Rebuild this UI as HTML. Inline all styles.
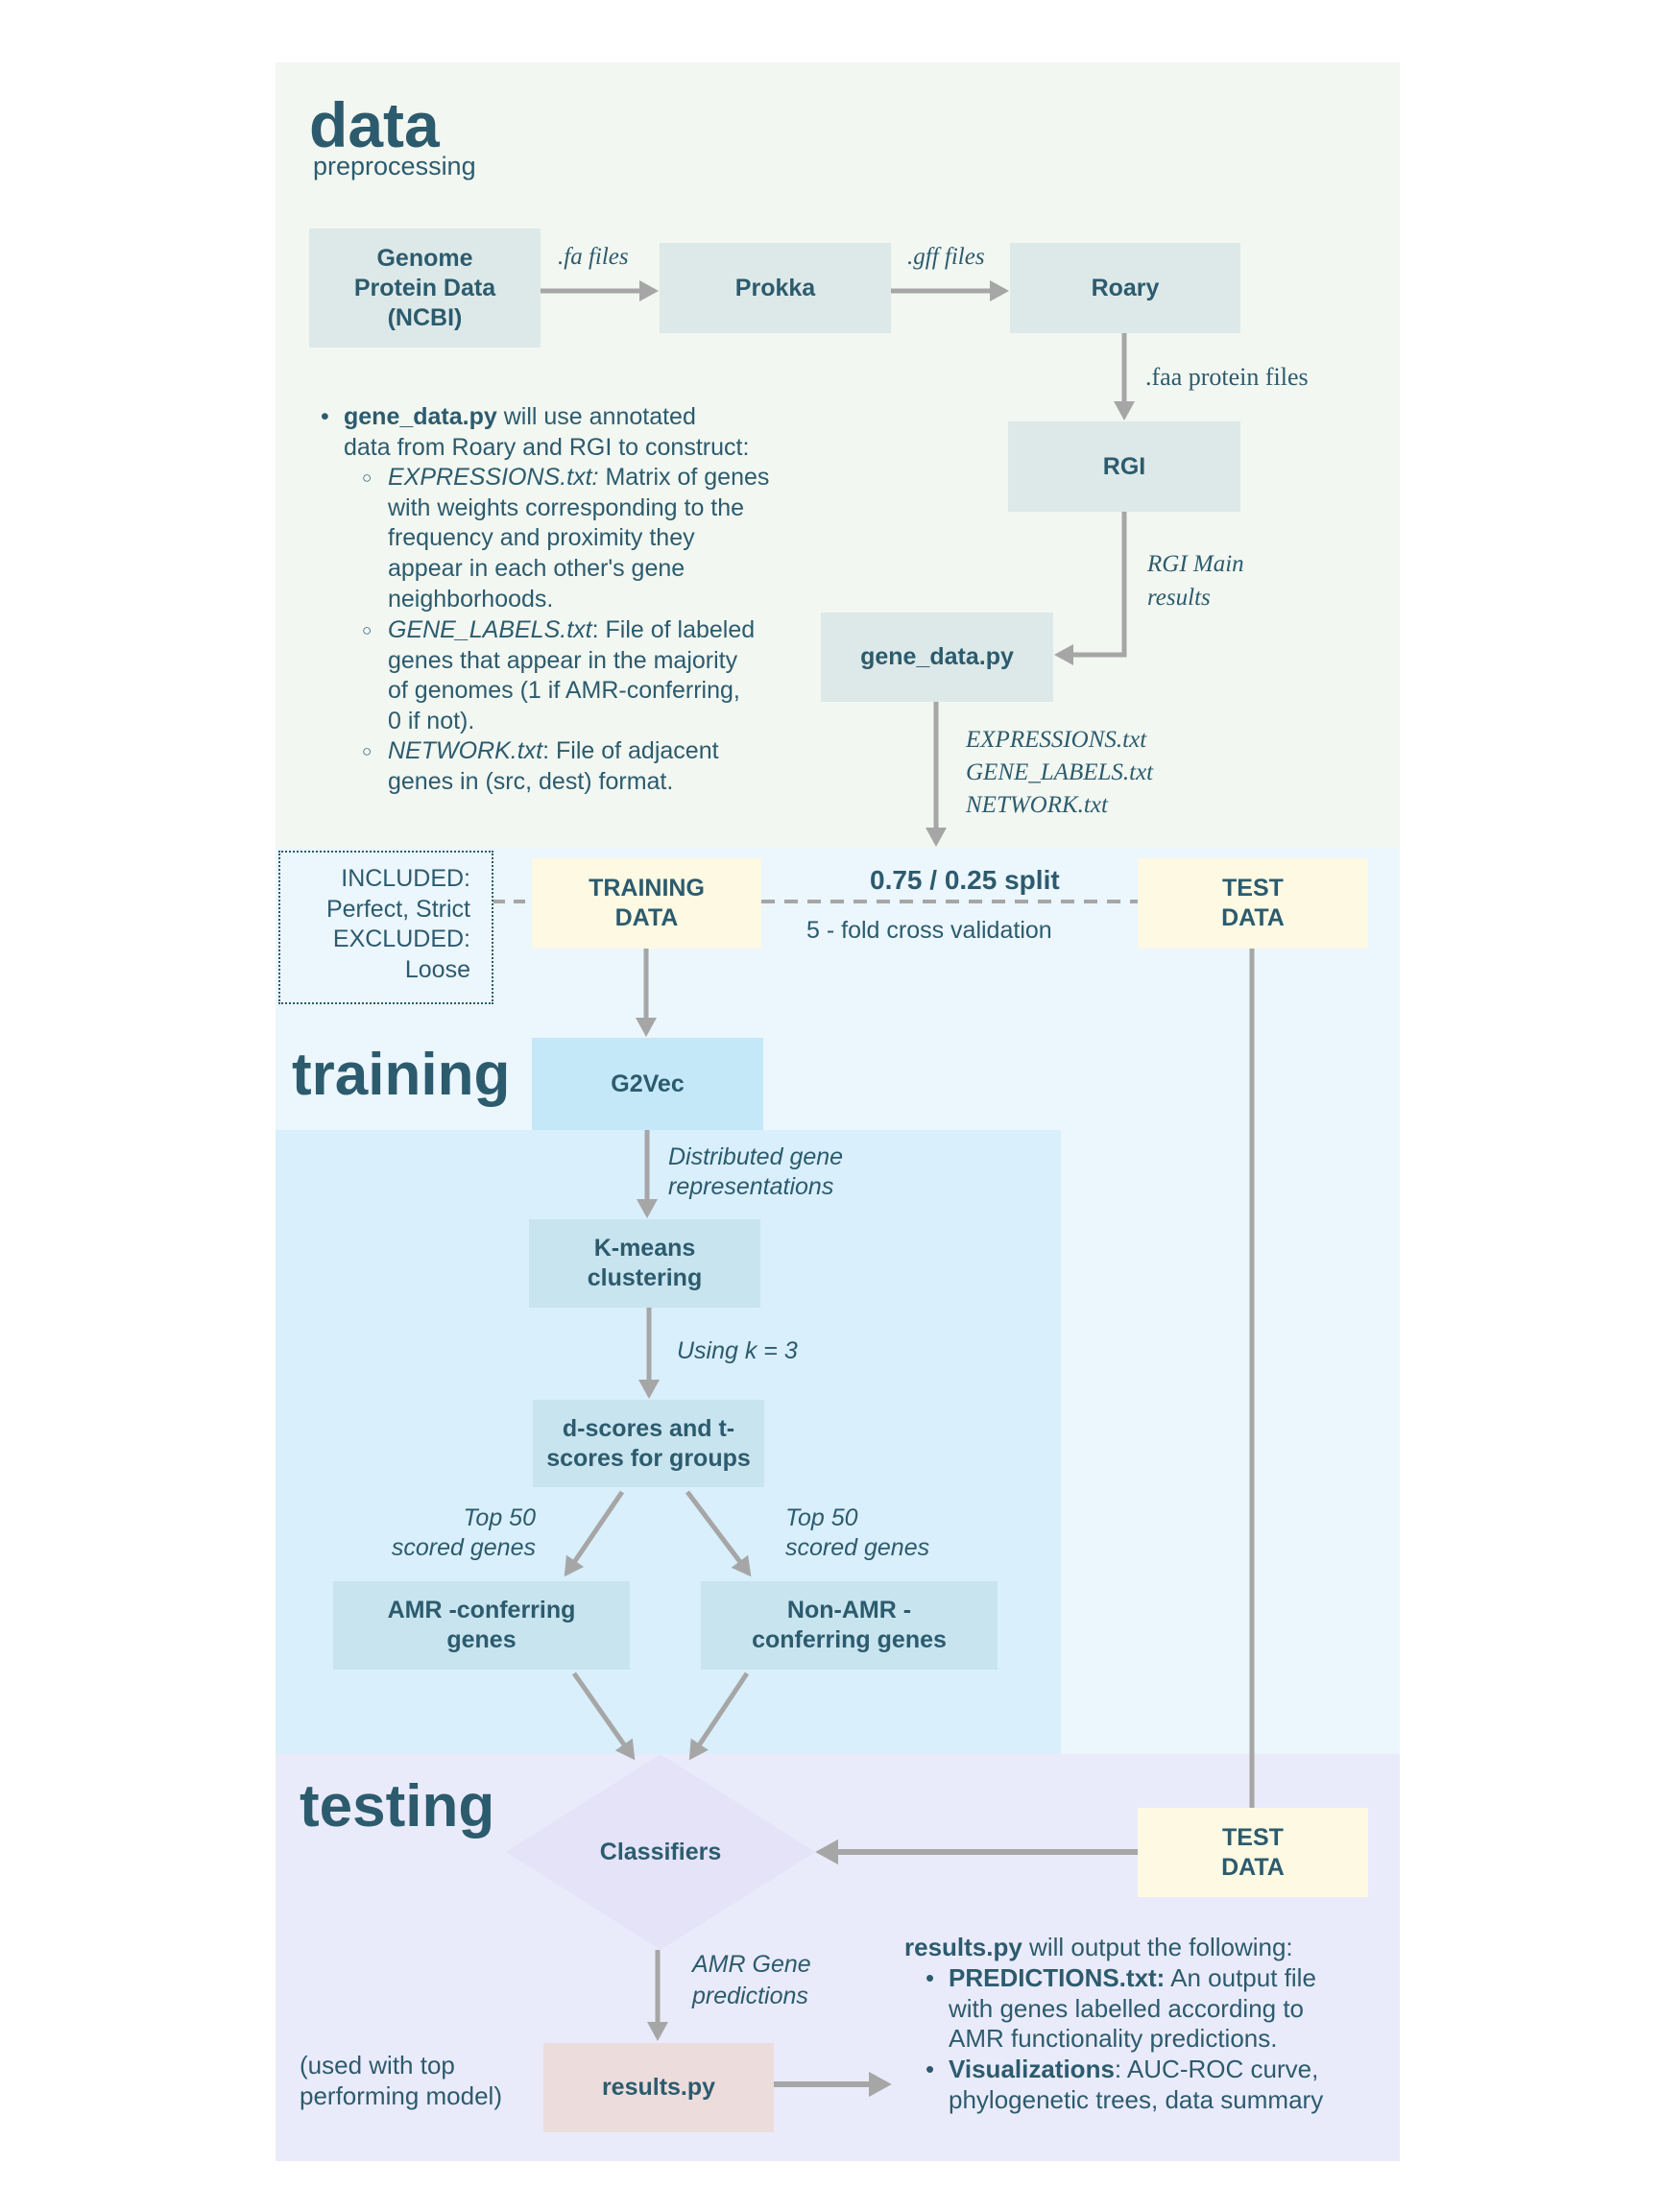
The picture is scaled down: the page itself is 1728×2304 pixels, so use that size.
<!DOCTYPE html>
<html><head><meta charset="utf-8"><style>
*{margin:0;padding:0;box-sizing:border-box}
body{width:1728px;height:2304px;background:#fff;position:relative;overflow:hidden;font-family:"Liberation Sans",sans-serif;color:#2c5b6e}
.a{position:absolute}
.box{position:absolute;display:flex;align-items:center;justify-content:center;text-align:center;font-weight:bold;font-size:25px;line-height:31px}
.g{background:#dde9e8}
.b{background:#c8e4ee}
.y{background:#fef9e3}
.t{position:absolute;white-space:nowrap}
.ser{font-family:"Liberation Serif",serif;font-style:italic;font-size:25px}
.it{font-style:italic;font-size:25px}
.txt{font-size:25px;line-height:31.7px}
</style></head><body>
<div class="a" style="left:287px;top:65px;width:1171px;height:818px;background:#f2f7f1"></div>
<div class="a" style="left:287px;top:883px;width:1171px;height:944px;background:#ecf6fd"></div>
<div class="a" style="left:287px;top:1177px;width:818px;height:650px;background:#d9effb"></div>
<div class="a" style="left:287px;top:1827px;width:1171px;height:424px;background:#eaebfa"></div>

<div class="t" style="left:322px;top:92px;font-size:66px;font-weight:bold">data</div>
<div class="t" style="left:326px;top:158px;font-size:27px">preprocessing</div>

<div class="box g" style="left:322px;top:238px;width:241px;height:124px">Genome<br>Protein Data<br>(NCBI)</div>
<div class="box g" style="left:687px;top:253px;width:241px;height:94px">Prokka</div>
<div class="box g" style="left:1052px;top:253px;width:240px;height:94px">Roary</div>
<div class="box g" style="left:1050px;top:439px;width:242px;height:94px">RGI</div>
<div class="box g" style="left:855px;top:638px;width:242px;height:93px">gene_data.py</div>

<div class="t ser" style="left:581px;top:254px">.fa files</div>
<div class="t ser" style="left:945px;top:254px">.gff files</div>
<div class="t ser" style="left:1193px;top:378px;font-style:normal;font-size:26px">.faa protein files</div>
<div class="t ser" style="left:1195px;top:570px;line-height:35px">RGI Main<br>results</div>
<div class="t ser" style="left:1006px;top:754px;line-height:34px">EXPRESSIONS.txt<br>GENE_LABELS.txt<br>NETWORK.txt</div>

<div class="t txt" style="left:334px;top:419px">•</div>
<div class="t txt" style="left:358px;top:419px"><b>gene_data.py</b> will use annotated<br>data from Roary and RGI to construct:</div>
<div class="t txt" style="left:377px;top:482px;font-size:17px">○</div>
<div class="t txt" style="left:404px;top:482px"><i>EXPRESSIONS.txt:</i> Matrix of genes<br>with weights corresponding to the<br>frequency and proximity they<br>appear in each other's gene<br>neighborhoods.</div>
<div class="t txt" style="left:377px;top:641px;font-size:17px">○</div>
<div class="t txt" style="left:404px;top:641px"><i>GENE_LABELS.txt</i>: File of labeled<br>genes that appear in the majority<br>of genomes (1 if AMR-conferring,<br>0 if not).</div>
<div class="t txt" style="left:377px;top:767px;font-size:17px">○</div>
<div class="t txt" style="left:404px;top:767px"><i>NETWORK.txt</i>: File of adjacent<br>genes in (src, dest) format.</div>

<div class="a" style="left:290px;top:886px;width:224px;height:160px;border:2.5px dotted #2c5b6e"></div>
<div class="t txt" style="left:290px;top:900px;width:200px;text-align:right;font-size:25px">INCLUDED:<br>Perfect, Strict<br>EXCLUDED:<br>Loose</div>

<div class="box y" style="left:554px;top:894px;width:239px;height:94px">TRAINING<br>DATA</div>
<div class="box y" style="left:1185px;top:894px;width:240px;height:94px">TEST<br>DATA</div>
<div class="t" style="left:906px;top:901px;font-size:28px;font-weight:bold">0.75 / 0.25 split</div>
<div class="t" style="left:840px;top:955px;font-size:25px">5 - fold cross validation</div>

<div class="t" style="left:304px;top:1084px;font-size:62px;font-weight:bold">training</div>
<div class="box" style="left:554px;top:1081px;width:241px;height:96px;background:#c5e8f8">G2Vec</div>
<div class="box b" style="left:551px;top:1270px;width:241px;height:92px">K-means<br>clustering</div>
<div class="box b" style="left:555px;top:1458px;width:241px;height:91px">d-scores and t-<br>scores for groups</div>
<div class="box b" style="left:347px;top:1647px;width:309px;height:92px">AMR -conferring<br>genes</div>
<div class="box b" style="left:730px;top:1647px;width:309px;height:92px">Non-AMR -<br>conferring genes</div>
<div class="t it" style="left:696px;top:1190px;line-height:31px">Distributed gene<br>representations</div>
<div class="t it" style="left:705px;top:1393px">Using k = 3</div>
<div class="t it" style="left:358px;top:1566px;width:200px;text-align:right;line-height:31px">Top 50<br>scored genes</div>
<div class="t it" style="left:818px;top:1566px;line-height:31px">Top 50<br>scored genes</div>

<div class="t" style="left:312px;top:1846px;font-size:62px;font-weight:bold">testing</div>
<svg class="a" style="left:0;top:0" width="1728" height="2304">
<polygon points="688,1827 849,1929 688,2031 527,1929" fill="#e4e3f8"/>
</svg>
<div class="box" style="left:588px;top:1912px;width:200px;height:34px">Classifiers</div>
<div class="box y" style="left:1185px;top:1883px;width:240px;height:93px">TEST<br>DATA</div>
<div class="t it" style="left:721px;top:2030px;line-height:33px">AMR Gene<br>predictions</div>
<div class="box" style="left:566px;top:2128px;width:240px;height:93px;background:#ecdcdc">results.py</div>
<div class="t txt" style="left:312px;top:2136px;font-size:26px">(used with top<br>performing model)</div>
<div class="t txt" style="left:942px;top:2013px;font-size:26px"><b>results.py</b> will output the following:</div>
<div class="t txt" style="left:964px;top:2045px;font-size:26px">•<br>&nbsp;<br>&nbsp;<br>•</div>
<div class="t txt" style="left:988px;top:2045px;font-size:26px"><b>PREDICTIONS.txt:</b> An output file<br>with genes labelled according to<br>AMR functionality predictions.<br><b>Visualizations</b>: AUC-ROC curve,<br>phylogenetic trees, data summary</div>

<svg class="a" style="left:0;top:0" width="1728" height="2304" fill="none" stroke="#a6a6a6" stroke-width="5">
<defs><marker id="m" markerWidth="5" markerHeight="5" refX="3.2" refY="2.5" orient="auto" markerUnits="strokeWidth"><path d="M0,0.3 L4,2.5 L0,4.7 Z" fill="#a6a6a6" stroke="none"/></marker></defs>
<line x1="563" y1="303" x2="682" y2="303" marker-end="url(#m)"/>
<line x1="928" y1="303" x2="1047" y2="303" marker-end="url(#m)"/>
<line x1="1171" y1="347" x2="1171" y2="434" marker-end="url(#m)"/>
<polyline points="1171,533 1171,682 1102,682" marker-end="url(#m)"/>
<line x1="975" y1="731" x2="975" y2="878" marker-end="url(#m)"/>
<line x1="514" y1="939" x2="554" y2="939" stroke-dasharray="12,9" stroke-width="4"/>
<line x1="793" y1="939" x2="1185" y2="939" stroke-dasharray="14,10" stroke-width="4"/>
<line x1="673" y1="988" x2="673" y2="1076" marker-end="url(#m)"/>
<line x1="674" y1="1177" x2="674" y2="1265" marker-end="url(#m)"/>
<line x1="676" y1="1362" x2="676" y2="1453" marker-end="url(#m)"/>
<line x1="648" y1="1554" x2="590" y2="1639" marker-end="url(#m)"/>
<line x1="716" y1="1554" x2="780" y2="1639" marker-end="url(#m)"/>
<line x1="598" y1="1743" x2="659" y2="1830" marker-end="url(#m)"/>
<line x1="778" y1="1743" x2="720" y2="1830" marker-end="url(#m)"/>
<line x1="1304" y1="988" x2="1304" y2="1883"/>
<line x1="1185" y1="1929" x2="854" y2="1929" stroke-width="6" marker-end="url(#m)"/>
<line x1="685" y1="2031" x2="685" y2="2122" marker-end="url(#m)"/>
<line x1="806" y1="2171" x2="924" y2="2171" stroke-width="6" marker-end="url(#m)"/>
</svg>
</body></html>
